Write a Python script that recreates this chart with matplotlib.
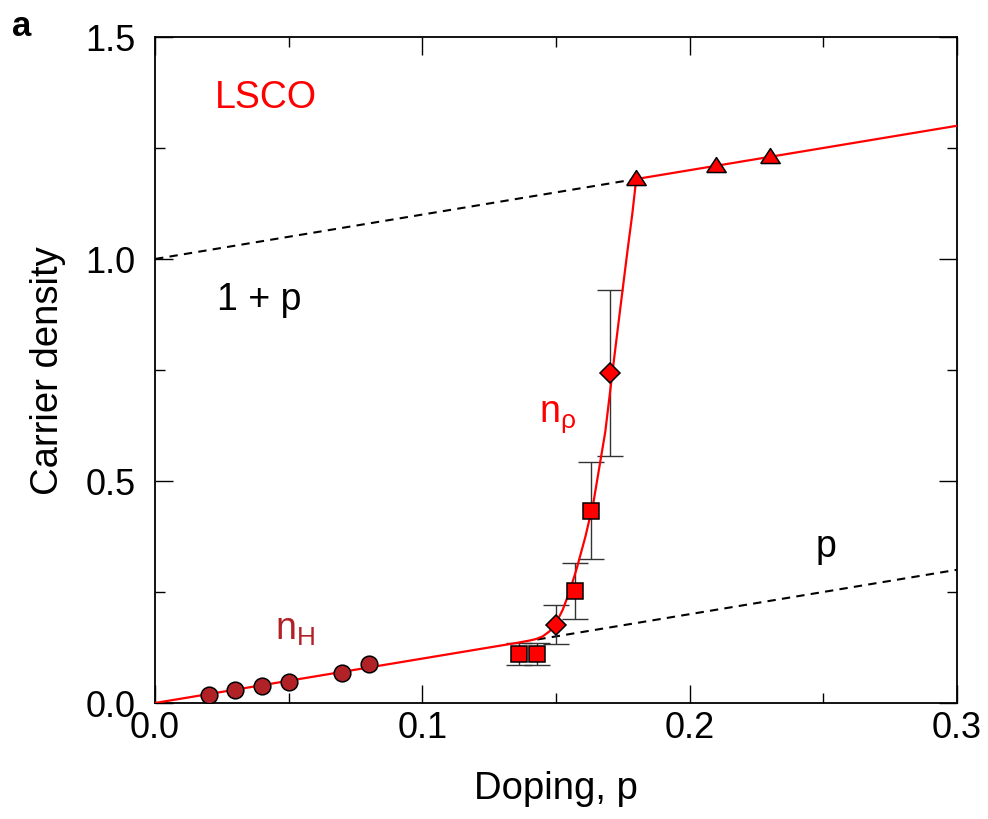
import matplotlib
matplotlib.use("Agg")
import matplotlib.pyplot as plt
from matplotlib.ticker import MultipleLocator

plt.rcParams['font.family'] = ['Liberation Sans', 'DejaVu Sans']
plt.rcParams['mathtext.fontset'] = 'custom'
plt.rcParams['mathtext.rm'] = 'Liberation Sans'
plt.rcParams['mathtext.it'] = 'Liberation Sans:italic'

# Hall number n_H (low doping)
p_hall = [0.020, 0.030, 0.040, 0.050, 0.070, 0.080]
n_hall = [0.018, 0.030, 0.039, 0.048, 0.068, 0.088]

# n_rho from resistivity: squares
p_sq = [0.136, 0.143, 0.157, 0.163]
n_sq = [0.110, 0.110, 0.253, 0.433]
err_sq = [0.025, 0.025, 0.063, 0.109]

# n_rho: diamonds
p_dm = [0.150, 0.170]
n_dm = [0.176, 0.743]
err_dm = [0.044, 0.187]

# high doping: triangles on 1 + p
p_tri = [0.180, 0.210, 0.230]
n_tri = [1.180, 1.210, 1.230]

# guide curve through the data
p_curve = [0.0, 0.120, 0.130, 0.136, 0.140, 0.1425, 0.145, 0.1475, 0.150,
           0.1525, 0.155, 0.1577, 0.161, 0.164, 0.1684, 0.1714, 0.174,
           0.1768, 0.1785, 0.180, 0.300]
n_curve = [0.0, 0.120, 0.130, 0.136, 0.1405, 0.144, 0.150, 0.161, 0.180,
           0.210, 0.250, 0.302, 0.375, 0.452, 0.610, 0.760, 0.887,
           1.022, 1.100, 1.180, 1.300]

# reference lines
p_onep = [0.0, 0.180]
n_onep = [1.0, 1.180]
p_p = [0.143, 0.300]
n_p = [0.143, 0.300]

red = '#FF0000'
darkred = '#B02226'

fig = plt.figure(figsize=(9.88, 8.2), dpi=100)
ax = fig.add_axes([0.157, 0.1415, 0.8116, 0.8122])

ax.plot(p_onep, n_onep, color='black', lw=1.5, ls=(0, (4, 3)), zorder=2)
ax.plot(p_p, n_p, color='black', lw=1.5, ls=(0, (4, 3)), zorder=2)
ax.plot(p_curve, n_curve, color=red, lw=1.6, zorder=3)

ax.errorbar(p_sq, n_sq, yerr=err_sq, fmt='none', ecolor='#333333',
            elinewidth=1.0, capsize=9.5, capthick=1.0, zorder=2)
ax.errorbar(p_dm, n_dm, yerr=err_dm, fmt='none', ecolor='#333333',
            elinewidth=1.0, capsize=9.5, capthick=1.0, zorder=2)

ax.plot(p_hall, n_hall, 'o', ms=12, mfc=darkred, mec='black', mew=1.1,
        ls='none', zorder=4)
ax.plot(p_sq, n_sq, 's', ms=11.5, mfc=red, mec='black', mew=1.1,
        ls='none', zorder=4)
ax.plot(p_dm, n_dm, 'D', ms=9.8, mfc=red, mec='black', mew=1.1,
        ls='none', zorder=4)
tri = [(-1.0, -0.62), (1.0, -0.62), (0.0, 0.92), (-1.0, -0.62)]
ax.plot(p_tri, n_tri, marker=tri, ms=14, mfc=red, mec='black', mew=1.1,
        ls='none', zorder=4)

ax.set_xlim(0, 0.3)
ax.set_ylim(0, 1.5)
ax.xaxis.set_major_locator(MultipleLocator(0.1))
ax.xaxis.set_minor_locator(MultipleLocator(0.05))
ax.yaxis.set_major_locator(MultipleLocator(0.5))
ax.yaxis.set_minor_locator(MultipleLocator(0.25))
ax.xaxis.set_major_formatter(plt.FormatStrFormatter('%.1f'))
ax.yaxis.set_major_formatter(plt.FormatStrFormatter('%.1f'))
ax.tick_params(which='both', direction='in', top=True, right=True,
               width=1.0, labelsize=26)
ax.tick_params(which='major', length=13)
ax.tick_params(which='minor', length=7)
ax.tick_params(axis='x', pad=5)
ax.tick_params(axis='y', pad=14)
for s in ax.spines.values():
    s.set_linewidth(1.3)

ax.set_xlabel('Doping, p', fontsize=27.5, labelpad=18)
ax.set_ylabel('Carrier density', fontsize=27.5, labelpad=14)

ax.text(0.0224, 1.342, 'LSCO', color=red, fontsize=27, va='baseline', ha='left')
ax.text(0.0232, 0.887, '1 + p', color='black', fontsize=27, va='baseline', ha='left')
ax.text(0.247, 0.331, 'p', color='black', fontsize=27, va='baseline', ha='left')
ax.text(0.1435, 0.635, r'$\mathrm{n_{ρ}}$', color=red, fontsize=27,
        va='baseline', ha='left')
ax.text(0.0450, 0.144, r'$\mathrm{n_{H}}$', color=darkred, fontsize=27,
        va='baseline', ha='left')

fig.text(0.012, 0.956, 'a', fontsize=25, fontweight='bold', ha='left', va='baseline')

fig.savefig('out.png', dpi=100)
